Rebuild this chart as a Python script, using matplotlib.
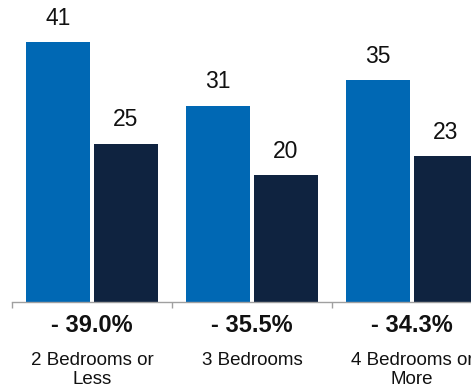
import matplotlib
matplotlib.use("Agg")
import matplotlib.pyplot as plt
from matplotlib.transforms import blended_transform_factory

categories = ["2 Bedrooms or\nLess", "3 Bedrooms", "4 Bedrooms or\nMore"]
series_a = [41, 31, 35]
series_b = [25, 20, 23]
changes = ["- 39.0%", "- 35.5%", "- 34.3%"]

plt.rcParams['font.family'] = ['Liberation Sans', 'DejaVu Sans']
plt.rcParams['savefig.bbox'] = 'standard'

W, H = 471, 391
fig = plt.figure(figsize=(W / 100, H / 100), dpi=100)
ax_left = 12 / W
ax_bottom = (H - 302) / H
ax = fig.add_axes([ax_left, ax_bottom, 1 - ax_left, 302 / H])

blue = "#0068b4"
navy = "#0f2340"
width = 0.405
off = 0.2125
x = list(range(len(categories)))
ax.bar([i - off for i in x], series_a, width=width, color=blue, zorder=2)
ax.bar([i + off for i in x], series_b, width=width, color=navy, zorder=2)

for i in x:
    ax.annotate(str(series_a[i]), (i - off, series_a[i]), xytext=(0, 12.5),
                textcoords="offset points", ha="center", va="baseline",
                fontsize=16.5, color="#111111")
    ax.annotate(str(series_b[i]), (i + off, series_b[i]), xytext=(0, 12.5),
                textcoords="offset points", ha="center", va="baseline",
                fontsize=16.5, color="#111111")

for s in ["top", "right", "left"]:
    ax.spines[s].set_visible(False)
ax.spines["bottom"].set_color("#a0a0a0")
ax.spines["bottom"].set_linewidth(1.0)
ax.set_yticks([])
ax.set_xticks([i - 0.5 for i in range(len(categories) + 1)])
ax.set_xticklabels([])
ax.tick_params(axis="x", direction="out", length=4, width=1.0, color="#a0a0a0")
ax.set_xlim(-0.5, -0.5 + (W - 12) / 160)
ax.set_ylim(0, 302 / 6.33)

trans = blended_transform_factory(ax.transData, fig.transFigure)
for i in x:
    t1 = ax.text(i, (H - 325) / H, changes[i], transform=trans, ha="center",
                 va="center", fontsize=17, fontweight="bold", color="#111111")
    t2 = ax.text(i, (H - 352) / H, categories[i], transform=trans, ha="center",
                 va="top", fontsize=13.5, color="#111111", linespacing=1.15)
    for t in (t1, t2):
        t.set_clip_on(True)
        t.set_clip_box(fig.bbox)

fig.savefig("out.png", dpi=100)
